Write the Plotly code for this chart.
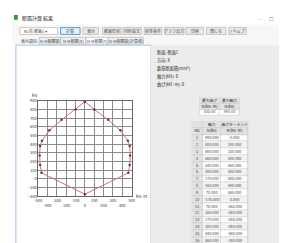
import plotly.graph_objects as go

W, H = 287, 243
FONT = "Noto Sans CJK JP"

# ---- data (N-M interaction curve) ----
point_no = list(range(1, 19))
moment_M = [0, 100, 250, 380, 460, 480, 485, 480, 465, 0, -465, -480, -485, -480, -460, -380, -250, -100]
axial_N = [890, 800, 680, 560, 440, 380, 270, 160, 70, -175, 70, 160, 270, 380, 440, 560, 680, 800]
visible_rows = 16  # rows shown in the (scrolled) result table

x_ticks = [-500, -400, -300, -200, -100, 0, 100, 200, 300, 400, 500]
y_ticks = [-200, -100, 0, 100, 200, 300, 400, 500, 600, 700, 800, 900]

title_text = "断面計算 結果"
combo_text = "RC柱 断面1 ▾"
toolbar_buttons = ["計算", "表示", "断面形状", "材料設定", "荷重条件", "グラフ出力", "印刷", "閉じる", "? ヘルプ"]
tab_labels = ["表示項目:", "N-M相関図", "N-M相関(X)", "N-M相関(Y)", "N-M相関図(計算値)"]
info_lines = ["断面: 断面1", "方向: X", "鉄筋断面積(mm²)", "軸力(kN): 0", "曲げ(kN·m): 0"]
summary_head1 = ["最大曲げ", "最大軸力"]
summary_head2 = ["M(kN·m)", "N(kN)"]
table_head1 = ["", "軸力", "曲げモーメント"]
table_head2 = ["No.", "N(kN)", "M(kN·m)"]


def px(x):
    return x / W


def py(y):
    return 1 - y / H


shapes = []
annotations = []


def rect(x0, y0, x1, y1, fill, line="rgba(0,0,0,0)", lw=1, layer="below"):
    shapes.append(dict(type="rect", xref="paper", yref="paper",
                       x0=px(x0), x1=px(x1), y0=py(y1), y1=py(y0),
                       fillcolor=fill, line=dict(color=line, width=lw), layer=layer))


def text(x, y, s, size=5, color="#333", anchor="left"):
    annotations.append(dict(xref="paper", yref="paper", x=px(x), y=py(y), text=s,
                            showarrow=False, xanchor=anchor, yanchor="middle",
                            font=dict(size=size, color=color, family=FONT)))


# window chrome
rect(0, 0, W, 13, "#ffffff")
rect(2, 3, 6, 8, "#3a9a3a")
text(8, 6, title_text, 5, "#222")
text(255, 7, "─", 5, "#777", "center")
text(267, 7, "☐", 5, "#777", "center")
text(279, 7, "✕", 5, "#777", "center")

rect(0, 13, W, 34, "#f7f7f7")
rect(8, 16, 47, 23, "#ffffff", "#a8a8a8", 0.6)
text(10, 19.5, combo_text, 4, "#444")
btn_pos = [(50, 70), (73, 89), (93, 112), (114, 133), (136, 154), (157, 177), (179, 197), (200, 220), (223, 241)]
for i, (lbl, (a, b)) in enumerate(zip(toolbar_buttons, btn_pos)):
    if i == 0:
        rect(a, 16, b, 23, "#e5f1fb", "#3c7fc4", 0.8)
    else:
        rect(a, 16, b, 23, "#eaeaea", "#a8a8a8", 0.6)
    text((a + b) / 2, 19.5, lbl, 4, "#444", "center")

tab_pos = [(8, 28), (28, 50), (50, 76), (76, 99), (99, 135)]
for i, (lbl, (a, b)) in enumerate(zip(tab_labels, tab_pos)):
    if i > 0:
        rect(a, 26, b, 33, "#ffffff" if i == 3 else "#f0f0f0", "#a8a8a8", 0.6)
    text((a + b) / 2, 29.5, lbl, 4, "#444", "center")

# panels
rect(4, 34, 143, 242, "#ffffff", "#a9c6e6", 1)
rect(143, 34, W, H, "#ececec")

for i, s in enumerate(info_lines):
    text(147, 42 + i * 8.2, s, 4.2, "#222")

# axis unit labels
text(23, 85, "kN", 4, "#333", "center")
text(125, 189, "kN·m", 4, "#333", "left")

ROW_H = 7.0
n_rows = 2 + visible_rows
table_bottom = 112 + n_rows * ROW_H

# table border backgrounds (cell gaps show these)
rect(193, 88, 234, 106, "#c4c4c4")
rect(185, 112, 243, table_bottom, "#c8c8c8")

fig = go.Figure()

# ---- N-M chart ----
fig.add_trace(go.Scatter(
    x=moment_M + [moment_M[0]], y=axial_N + [axial_N[0]],
    mode="lines+markers",
    line=dict(color="#cc7676", width=1),
    marker=dict(size=2.5, color="#6b3a3a"),
    hoverinfo="skip", showlegend=False))

x_text = [(str(v) if i % 2 == 0 else "<br>" + str(v)) for i, v in enumerate(x_ticks)]

# ---- summary table (x2/y2) ----
s_z = [[0, 0], [0, 0], [1, 1]]
fig.add_trace(go.Heatmap(
    z=s_z, x=[0, 1, 2], y=[-0.5, 0.5, 1.5, 2.5], xgap=0.6, ygap=0.6,
    colorscale=[[0, "#e2e2e2"], [0.5, "#ffffff"], [1, "#f3f3f3"]], zmin=0, zmax=2,
    showscale=False, hoverinfo="skip", xaxis="x2", yaxis="y2"))
s_vals = [f"{max(moment_M):.2f}", f"{max(axial_N):.2f}"]
for r, row in enumerate([summary_head1, summary_head2, s_vals]):
    fig.add_trace(go.Scatter(
        x=[0.5, 1.5], y=[r, r], mode="text", text=row,
        textfont=dict(size=3.8, color="#222" if r < 2 else "#555", family=FONT),
        hoverinfo="skip", showlegend=False, xaxis="x2", yaxis="y2"))

# ---- main table (x3/y3) ----
col_edges = [0, 11, 30, 58]
col_mid = [(col_edges[i] + col_edges[i + 1]) / 2 for i in range(3)]
t_z = []
for r in range(n_rows):
    if r < 2:
        t_z.append([0, 0, 0])
    else:
        c = 1 if r % 2 == 0 else 2
        t_z.append([0, c, c])
fig.add_trace(go.Heatmap(
    z=t_z, x=col_edges, y=[r - 0.5 for r in range(n_rows + 1)], xgap=0.6, ygap=0.6,
    colorscale=[[0, "#e2e2e2"], [0.5, "#ffffff"], [1, "#f3f3f3"]], zmin=0, zmax=2,
    showscale=False, hoverinfo="skip", xaxis="x3", yaxis="y3"))
for r, row in enumerate([table_head1, table_head2]):
    fig.add_trace(go.Scatter(
        x=col_mid, y=[r] * 3, mode="text", text=row,
        textfont=dict(size=3.8, color="#222", family=FONT),
        hoverinfo="skip", showlegend=False, xaxis="x3", yaxis="y3"))
rows_y = [r + 2 for r in range(visible_rows)]
for ci, col in enumerate([[str(n) for n in point_no[:visible_rows]],
                          [f"{v:.3f}" for v in axial_N[:visible_rows]],
                          [f"{v:.3f}" for v in moment_M[:visible_rows]]]):
    fig.add_trace(go.Scatter(
        x=[col_mid[ci]] * len(col), y=rows_y, mode="text", text=col,
        textfont=dict(size=3.8, color="#444", family=FONT),
        hoverinfo="skip", showlegend=False, xaxis="x3", yaxis="y3"))

hidden = dict(showticklabels=False, showgrid=False, zeroline=False, showline=False,
              ticks="", fixedrange=True)

fig.update_layout(
    width=W, height=H,
    margin=dict(l=0, r=0, t=0, b=0),
    paper_bgcolor="#ffffff",
    plot_bgcolor="rgba(0,0,0,0)",
    shapes=shapes,
    annotations=annotations,
    showlegend=False,
    xaxis=dict(domain=[px(27), px(123)], range=[-500, 500],
               tickvals=x_ticks, ticktext=x_text, tickangle=0,
               tickfont=dict(size=4, color="#333", family=FONT),
               showgrid=True, gridcolor="#8a8a8a", gridwidth=0.6,
               zeroline=False, showline=True, linecolor="#666", linewidth=0.6, mirror=True,
               ticks="", fixedrange=True),
    yaxis=dict(domain=[py(189), py(91)], range=[-200, 900],
               tickvals=y_ticks, tickfont=dict(size=4, color="#333", family=FONT),
               showgrid=True, gridcolor="#8a8a8a", gridwidth=0.6,
               zeroline=False, showline=True, linecolor="#666", linewidth=0.6, mirror=True,
               ticks="", fixedrange=True),
    xaxis2=dict(domain=[px(193), px(234)], range=[0, 2], anchor="y2", **hidden),
    yaxis2=dict(domain=[py(106), py(88)], range=[2.5, -0.5], anchor="x2", **hidden),
    xaxis3=dict(domain=[px(185), px(243)], range=[0, 58], anchor="y3", **hidden),
    yaxis3=dict(domain=[py(table_bottom), py(112)], range=[n_rows - 0.5, -0.5], anchor="x3", **hidden),
)

fig.write_html("out.html")
